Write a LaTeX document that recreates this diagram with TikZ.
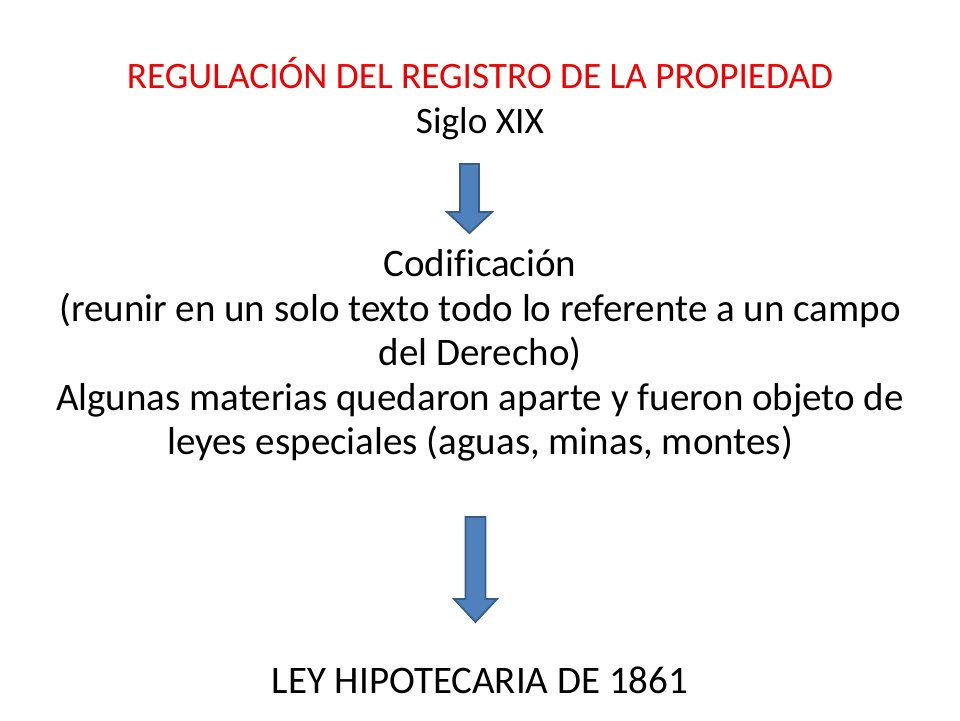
\documentclass[tikz,border=0pt]{standalone}
\usepackage{fontspec}
\setmainfont[Ligatures=CommonOff]{Carlito}
\definecolor{flechafill}{rgb}{0.309804, 0.505882, 0.741176}
\definecolor{flechaline}{rgb}{0.219608, 0.364706, 0.541176}
\definecolor{titulored}{rgb}{0.941176, 0.000000, 0.000000}
\tikzset{
  linea/.style={anchor=base, inner sep=0pt, font=\fontsize{37.3}{44.5}\selectfont},
  cuerpo/.style={linea, font=\fontsize{39}{44.5}\selectfont},
  flecha/.style={fill=flechafill, draw=flechaline, line width=1.8pt, line join=miter}
}
\begin{document}
\begin{tikzpicture}[x=1pt,y=-1pt]
\useasboundingbox (0,0) rectangle (960,720);
% titulo
\node[linea, text=titulored] (titulo) at (480,88.5){REGULACIÓN DEL REGISTRO DE LA PROPIEDAD};
\node[linea] (siglo) at (480,133){Siglo XIX};
% codificacion
\node[cuerpo] (codif) at (480,276.5){Codificación};
\node[cuerpo] (reunir) at (480,321){(reunir en un solo texto todo lo referente a un campo};
\node[cuerpo] (derecho) at (480,365.5){del Derecho)};
\node[cuerpo] (materias) at (480,410){Algunas materias quedaron aparte y fueron objeto de};
\node[cuerpo] (leyes) at (480,454.5){leyes especiales (aguas, minas, montes)};
% ley
\node[cuerpo] (ley) at (480,693){LEY HIPOTECARIA DE 1861};
% flechas
\draw[flecha] (460,164)--(479,164)--(479,212)--(492,212)--(469.5,233)--(447,212)--(460,212)--cycle;
\draw[flecha] (465.5,517)--(485.5,517)--(485.5,599)--(497,599)--(475.5,622)--(454,599)--(465.5,599)--cycle;
\end{tikzpicture}
\end{document}
